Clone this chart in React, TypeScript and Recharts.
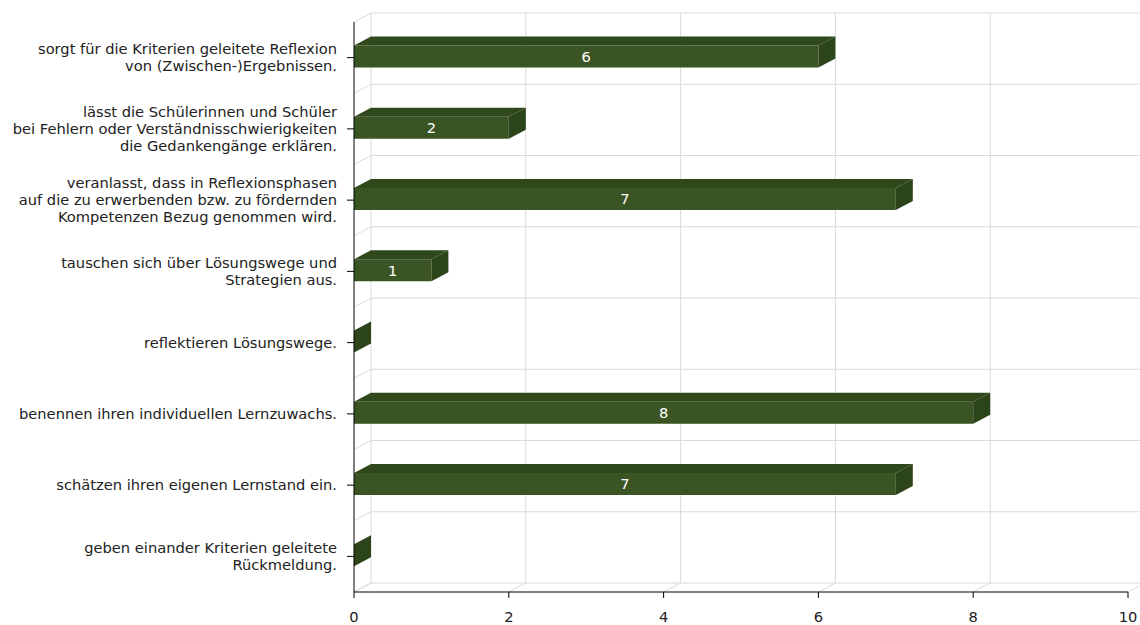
import { BarChart, Bar, XAxis, YAxis, CartesianGrid, LabelList } from "recharts";

const categories = [
  "sorgt für die Kriterien geleitete Reflexion\nvon (Zwischen-)Ergebnissen.",
  "lässt die Schülerinnen und Schüler\nbei Fehlern oder Verständnisschwierigkeiten\ndie Gedankengänge erklären.",
  "veranlasst, dass in Reflexionsphasen\nauf die zu erwerbenden bzw. zu fördernden\nKompetenzen Bezug genommen wird.",
  "tauschen sich über Lösungswege und\nStrategien aus.",
  "reflektieren Lösungswege.",
  "benennen ihren individuellen Lernzuwachs.",
  "schätzen ihren eigenen Lernstand ein.",
  "geben einander Kriterien geleitete\nRückmeldung.",
];
const values = [6, 2, 7, 1, 0, 8, 7, 0];
const xTicks = [0, 2, 4, 6, 8, 10];

const data = categories.map((label, i) => ({ label, value: values[i] }));

// 3D depth
const DX = 17;
const DY = 9;
const FRONT = "#3b5424";
const TOP = "#2f481c";
const SIDE = "#2c4419";
const GRID = "#dadada";
const FONT = "'DejaVu Sans', Verdana, sans-serif";
const FS = 14.67;

function Bar3D(props: any) {
  const { x, y, width, height } = props;
  const yy = y - 1.5;
  const w = Math.max(0, width);
  return (
    <g>
      {w > 0 && <rect x={x} y={yy} width={w} height={height} fill={FRONT} />}
      {w > 0 && (
        <polygon
          points={`${x},${yy} ${x + DX},${yy - DY} ${x + w + DX},${yy - DY} ${x + w},${yy}`}
          fill={TOP}
        />
      )}
      <polygon
        points={`${x + w},${yy} ${x + w + DX},${yy - DY} ${x + w + DX},${yy + height - DY} ${x + w},${yy + height}`}
        fill={SIDE}
      />
    </g>
  );
}

function ValueLabel(props: any) {
  const { x, y, width, height, value } = props;
  if (!value) return null;
  return (
    <text
      x={x + width / 2}
      y={y - 1.5 + height / 2 + 5.3}
      textAnchor="middle"
      fill="#ffffff"
      fontSize={FS}
      fontFamily={FONT}
    >
      {value}
    </text>
  );
}

function YTick(props: any) {
  const { x, y, payload } = props;
  const lines = String(payload.value).split("\n");
  const n = lines.length;
  return (
    <text x={x} y={y} textAnchor="end" fill="#222" fontSize={FS} fontFamily={FONT}>
      {lines.map((l, i) => (
        <tspan key={i} x={x} y={y + (i - (n - 1) / 2) * 16.7 + 5}>
          {l}
        </tspan>
      ))}
    </text>
  );
}

function XTick(props: any) {
  const { x, y, payload } = props;
  return (
    <text x={x} y={y + 22} textAnchor="middle" fill="#222" fontSize={FS} fontFamily={FONT}>
      {payload.value}
    </text>
  );
}

function HLine(p: any) {
  const { x1, y1, x2 } = p;
  return (
    <g key={p.key}>
      <line x1={x1 + DX} y1={y1 - DY} x2={x2 + DX} y2={y1 - DY} stroke={GRID} />
      <line x1={x1} y1={y1} x2={x1 + DX} y2={y1 - DY} stroke={GRID} />
    </g>
  );
}

function VLine(p: any) {
  const { x1, y1, y2 } = p;
  return (
    <g key={p.key}>
      <line x1={x1 + DX} y1={y1 - DY} x2={x1 + DX} y2={y2 - DY} stroke={GRID} />
      <line x1={x1} y1={y2} x2={x1 + DX} y2={y2 - DY} stroke={GRID} />
    </g>
  );
}

export default function App() {
  return (
    <div style={{ position: "absolute", left: 0, top: 0, background: "#fff" }}>
      <BarChart
        width={1140}
        height={625}
        data={data}
        layout="vertical"
        margin={{ top: 22, right: 12, left: 0, bottom: 0 }}
      >
        <CartesianGrid
          horizontal={HLine}
          vertical={VLine}
          horizontalCoordinatesGenerator={({ offset }: any) =>
            categories.map((_, i) => offset.top + (i * offset.height) / categories.length).concat(offset.top + offset.height)
          }
        />
        <XAxis
          type="number"
          domain={[0, 10]}
          ticks={xTicks}
          height={33}
          stroke="#000"
          tickSize={6}
          tick={<XTick />}
        />
        <YAxis
          type="category"
          dataKey="label"
          width={354}
          stroke="#000"
          tickSize={7}
          tick={<YTick />}
          tickMargin={10}
          interval={0}
        />
        <Bar dataKey="value" barSize={22} shape={<Bar3D />} isAnimationActive={false}>
          <LabelList dataKey="value" content={<ValueLabel />} />
        </Bar>
      </BarChart>
    </div>
  );
}
